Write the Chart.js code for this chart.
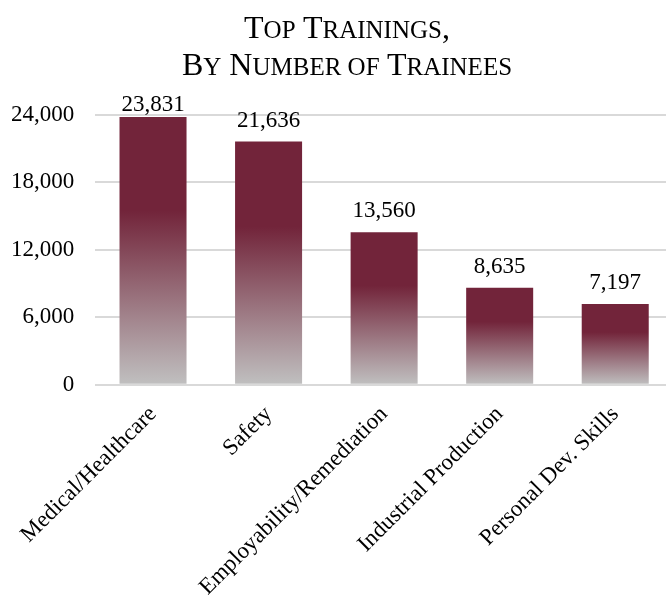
<!DOCTYPE html>
<html>
<head>
<meta charset="utf-8">
<script src="https://cdn.jsdelivr.net/npm/chart.js@4.4.1/dist/chart.umd.min.js"></script>
<style>
  html, body { margin: 0; padding: 0; background: #fff; overflow: hidden; }
  #wrap { position: relative; width: 674px; height: 606px; }
  #title {
    position: absolute; left: 14px; top: 10px; width: 666px;
    text-align: center; font-family: "Liberation Serif", "Times New Roman", serif;
    font-size: 32px; line-height: 34px; color: #000;
  }
  #title span { font-size: 25px; }
</style>
</head>
<body>
<div id="wrap">
  <canvas id="myChart"></canvas>
  <div id="title">T<span>OP</span> T<span>RAININGS</span>,<br>B<span>Y</span> N<span>UMBER OF</span> T<span>RAINEES</span></div>
</div>
<script>
const categories = ['Medical/Healthcare', 'Safety', 'Employability/Remediation', 'Industrial Production', 'Personal Dev. Skills'];
const trainees = [23831, 21636, 13560, 8635, 7197];
const yTicks = [0, 6000, 12000, 18000, 24000];

const maroon = '#72243a';
const fadeGray = '#c0c0c0';
const serif = '"Liberation Serif", "Times New Roman", serif';

// gradient per bar: solid maroon at the top, fading to grey at the base
function barFill(context) {
  const chart = context.chart;
  if (!chart.chartArea || !chart.scales.y) return maroon;
  const y = chart.scales.y;
  const top = y.getPixelForValue(context.raw);
  const bottom = y.getPixelForValue(0);
  const g = chart.ctx.createLinearGradient(0, top, 0, bottom);
  g.addColorStop(0, maroon);
  g.addColorStop(0.35, maroon);
  g.addColorStop(1, fadeGray);
  return g;
}

const valueLabels = {
  id: 'valueLabels',
  afterDatasetsDraw(chart) {
    const ctx = chart.ctx;
    const meta = chart.getDatasetMeta(0);
    ctx.save();
    ctx.font = '23px ' + serif;
    ctx.fillStyle = '#000';
    ctx.textAlign = 'center';
    ctx.textBaseline = 'alphabetic';
    meta.data.forEach((bar, i) => {
      const yPos = Math.max(bar.y - 15, chart.chartArea.top - 4);
      ctx.fillText(trainees[i].toLocaleString('en-US'), bar.x, yPos);
    });
    ctx.restore();
  }
};

const ctx = document.getElementById('myChart');
ctx.width = 674;
ctx.height = 606;

new Chart(ctx, {
  type: 'bar',
  data: {
    labels: categories,
    datasets: [{
      label: 'Trainees',
      data: trainees,
      backgroundColor: barFill,
      borderWidth: 0,
      barPercentage: 0.58,
      categoryPercentage: 1
    }]
  },
  options: {
    responsive: false,
    animation: false,
    layout: { padding: { top: 115, left: -10, right: 1, bottom: -3 } },
    scales: {
      y: {
        min: 0,
        max: 24000,
        afterBuildTicks: (axis) => { axis.ticks = yTicks.map(v => ({ value: v })); },
        border: { display: false },
        grid: { color: '#d9d9d9', lineWidth: 2, drawTicks: false },
        ticks: {
          color: '#000',
          padding: 21,
          font: { family: serif, size: 23 },
          callback: (v) => v.toLocaleString('en-US')
        }
      },
      x: {
        border: { display: false },
        grid: { display: false },
        ticks: {
          color: '#000',
          padding: 8,
          minRotation: 45,
          maxRotation: 45,
          autoSkip: false,
          font: { family: serif, size: 23 }
        }
      }
    },
    plugins: {
      legend: { display: false },
      title: { display: false },
      tooltip: { enabled: false }
    }
  },
  plugins: [valueLabels]
});
</script>
</body>
</html>
